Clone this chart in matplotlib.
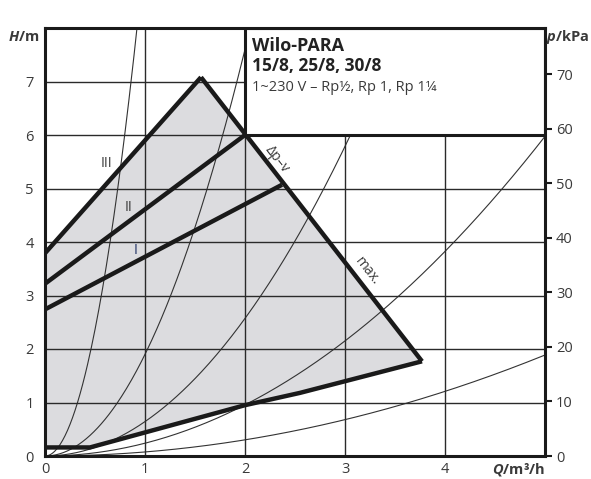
import numpy as np
import matplotlib
matplotlib.use('Agg')
import matplotlib.pyplot as plt
from matplotlib.patches import Polygon, Rectangle

plt.rcParams['font.family'] = ['Open Sans', 'DejaVu Sans']
plt.rcParams['mathtext.fontset'] = 'custom'
plt.rcParams['mathtext.bfit'] = 'Open Sans:italic:bold'

# pump field outline (Q in m3/h, H in m)
field_q = [0.0, 0.0, 1.56, 3.77, 2.55, 2.0, 0.45, 0.0]
field_h = [0.16, 3.79, 7.08, 1.77, 1.18, 0.95, 0.16, 0.16]

# speed / control lines
line_iii_q = [0.0, 1.56]
line_iii_h = [3.79, 7.08]
line_ii_q = [0.0, 2.0]
line_ii_h = [3.22, 6.0]
line_i_q = [0.0, 2.37]
line_i_h = [2.74, 5.07]
max_q = [1.56, 3.77]
max_h = [7.08, 1.77]
bottom_q = [0.0, 0.45, 2.0, 2.55, 3.77]
bottom_h = [0.16, 0.16, 0.95, 1.18, 1.77]

# system curves H = k * Q^2
system_k = [9.45, 1.9, 0.643, 0.239, 0.0755]

x_ticks = [0, 1, 2, 3, 4]
y_ticks = [0, 1, 2, 3, 4, 5, 6, 7]
p_ticks = [0, 10, 20, 30, 40, 50, 60, 70]

title_lines = ['Wilo-PARA', '15/8, 25/8, 30/8', '1~230 V – Rp½, Rp 1, Rp 1¼']

txt_col = '#3a3a3a'
thick = '#1a1a1a'

fig = plt.figure(figsize=(5.91, 4.79), dpi=100)
ax = fig.add_axes([45 / 591, 23 / 479, 500 / 591, 428 / 479])
ax.set_xlim(0, 5)
ax.set_ylim(0, 8)

ax.add_patch(Polygon(list(zip(field_q, field_h)), closed=True,
                     facecolor='#dcdcdf', edgecolor='none', zorder=1))

ax.set_xticks(x_ticks)
ax.set_yticks(y_ticks)
ax.grid(True, color='#2a2a2a', linewidth=1.0, zorder=2)
ax.set_axisbelow(False)
for gl in ax.get_xgridlines() + ax.get_ygridlines():
    gl.set_zorder(2)
ax.tick_params(length=0, labelsize=10.5, labelcolor=txt_col, pad=8)
ax.tick_params(axis='x', pad=4)

q = np.linspace(0, 5, 400)
for k in system_k:
    ax.plot(q, k * q ** 2, color='#333333', linewidth=0.8, zorder=2.5)

for xs, ys in [(line_iii_q, line_iii_h), (line_ii_q, line_ii_h), (line_i_q, line_i_h),
               (max_q, max_h), (bottom_q, bottom_h)]:
    ax.plot(xs, ys, color=thick, linewidth=3.2, solid_capstyle='butt',
            solid_joinstyle='miter', zorder=3)

# title box in top right corner
ax.add_patch(Rectangle((2, 6), 3, 2, facecolor='white', edgecolor=thick,
                       linewidth=2.2, zorder=4))
ax.text(2.07, 7.84, title_lines[0], fontsize=13, fontweight='bold', color='#222222',
        va='top', zorder=5)
ax.text(2.07, 7.45, title_lines[1], fontsize=12.5, fontweight='bold', color='#222222',
        va='top', zorder=5)
ax.text(2.07, 7.02, title_lines[2], fontsize=10.5, color=txt_col, va='top', zorder=5)

ax.text(0.61, 5.47, 'III', fontsize=10, color=txt_col, ha='center', va='center', zorder=5)
ax.text(0.84, 4.65, 'II', fontsize=10, color=txt_col, ha='center', va='center', zorder=5)
ax.text(0.91, 3.85, 'I', fontsize=10, color='#223366', ha='center', va='center', zorder=5)
ax.text(2.32, 5.55, 'Δp–v', fontsize=10, color=txt_col, rotation=-52,
        ha='center', va='center', zorder=5)
ax.text(3.22, 3.45, 'max.', fontsize=10, color=txt_col, rotation=-52,
        ha='center', va='center', zorder=5)

for s in ax.spines.values():
    s.set_linewidth(2.2)
    s.set_color(thick)
    s.set_zorder(6)

ax2 = ax.twinx()
ax2.set_ylim(0, 8 * 9.81)
ax2.set_yticks(p_ticks)
ax2.tick_params(axis='y', direction='out', length=5, width=1.5, color=thick,
                labelsize=10.5, labelcolor=txt_col, pad=3)
for s in ax2.spines.values():
    s.set_visible(False)

fig.text(24 / 591, 1 - 37 / 479, r'$\mathbfit{H}$/m', fontsize=10.5, fontweight='bold',
         color=txt_col, ha='center', va='center')
fig.text(589 / 591, 1 - 37 / 479, r'$\mathbfit{p}$/kPa', fontsize=10.5, fontweight='bold',
         color=txt_col, ha='right', va='center')
fig.text(519 / 591, 1 - 469 / 479, r'$\mathbfit{Q}$/m³/h', fontsize=10.5, fontweight='bold',
         color=txt_col, ha='center', va='center')

fig.savefig('out.png', dpi=100)
